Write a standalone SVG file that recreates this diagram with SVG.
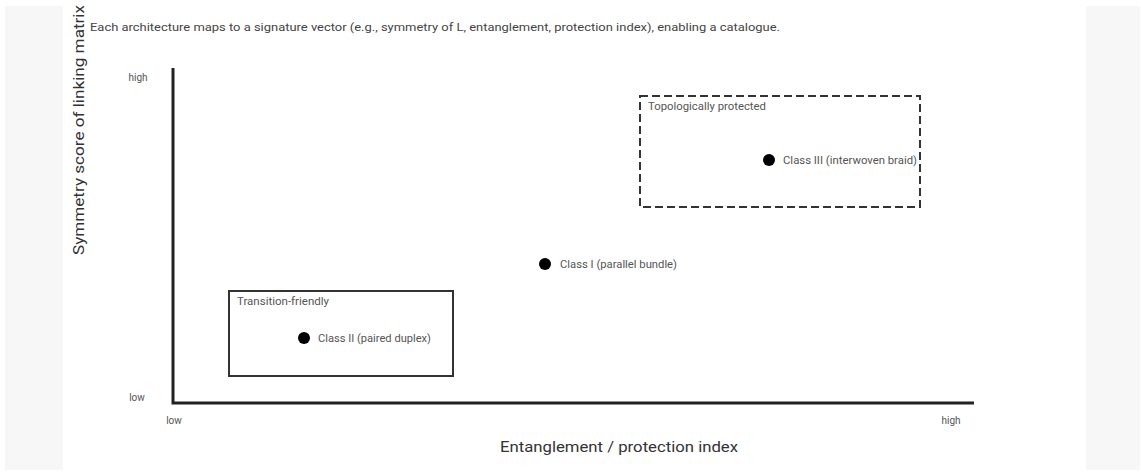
<svg xmlns="http://www.w3.org/2000/svg" width="1141" height="476" viewBox="0 0 1141 476">
<style>
text{font-family:Roboto,"Liberation Sans",sans-serif;}
.small{font-size:10.5px;fill:#555;}
.tick{font-size:10px;fill:#555;}
.axlab{font-size:15px;fill:#333;}
.dot{fill:#000;}
.region{fill:none;stroke:#333;stroke-width:2;}
</style>
<rect x="0" y="0" width="1141" height="476" fill="#fff"/>
<rect x="5" y="6" width="58" height="464" fill="#f7f7f7"/>
<rect x="1086" y="6" width="54" height="464" fill="#f7f7f7"/>
<text x="90" y="31" style="font-size:11px;fill:#444" textLength="690" lengthAdjust="spacingAndGlyphs">Each architecture maps to a signature vector (e.g., symmetry of L, entanglement, protection index), enabling a catalogue.</text>
<g id="axes">
<path d="M173 68 V403 H974" fill="none" stroke="#222" stroke-width="3"/>
<text class="tick" x="138" y="81" text-anchor="middle">high</text>
<text class="tick" x="137" y="401" text-anchor="middle">low</text>
<text class="tick" x="174" y="424" text-anchor="middle">low</text>
<text class="tick" x="951" y="424" text-anchor="middle">high</text>
<text class="axlab" x="500" y="452" textLength="238" lengthAdjust="spacingAndGlyphs">Entanglement / protection index</text>
<text class="axlab" transform="translate(84,255) rotate(-90)" textLength="250" lengthAdjust="spacingAndGlyphs">Symmetry score of linking matrix</text>
</g>
<g id="region-topological">
<rect class="region" x="640" y="96" width="280" height="111" stroke-dasharray="8 4"/>
<text class="small" x="648" y="110" textLength="118" lengthAdjust="spacingAndGlyphs">Topologically protected</text>
</g>
<g id="region-transition">
<rect class="region" x="229" y="291" width="224" height="85"/>
<text class="small" x="237" y="305" textLength="92" lengthAdjust="spacingAndGlyphs">Transition-friendly</text>
</g>
<g id="class-iii">
<circle class="dot" cx="769" cy="160" r="6"/>
<text class="small" x="783" y="164" textLength="134" lengthAdjust="spacingAndGlyphs">Class III (interwoven braid)</text>
</g>
<g id="class-i">
<circle class="dot" cx="545" cy="264" r="6"/>
<text class="small" x="560" y="268" textLength="117" lengthAdjust="spacingAndGlyphs">Class I (parallel bundle)</text>
</g>
<g id="class-ii">
<circle class="dot" cx="304" cy="338" r="6"/>
<text class="small" x="318" y="342" textLength="113" lengthAdjust="spacingAndGlyphs">Class II (paired duplex)</text>
</g>
<g id="connectors"></g>
</svg>
